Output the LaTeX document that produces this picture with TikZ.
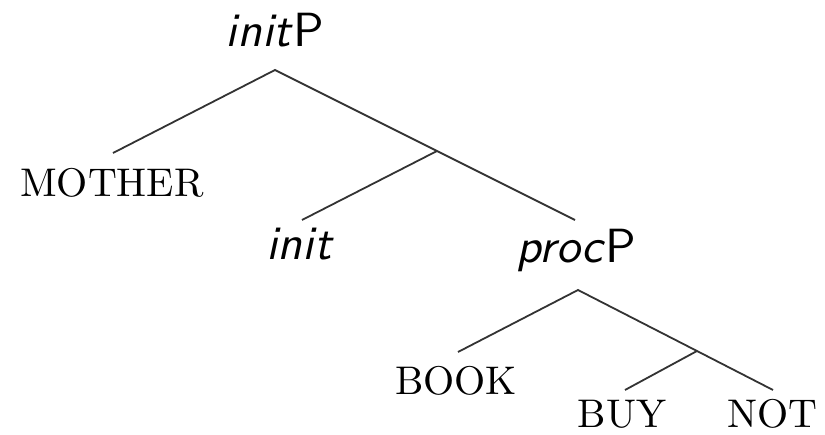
\documentclass[tikz,border=0pt]{standalone}
\usepackage{fontspec}
\newfontfamily\lmten{lmroman10-regular}[Extension=.otf]
\newfontfamily\lmsansten{lmsans10-regular}[Extension=.otf,ItalicFont=lmsans10-oblique]
\begin{document}
\begin{tikzpicture}[x=1pt,y=-1pt,
  cat/.style={anchor=base,inner sep=0pt,font=\lmsansten\fontsize{48}{50}\selectfont},
  leaf/.style={anchor=base,inner sep=0pt,font=\lmten\fontsize{40}{42}\selectfont},
  branch/.style={draw=black!80,line width=1.8pt}]
\useasboundingbox (0,0) rectangle (825,435);
\node[cat] (initP) at (275,47) {\textit{init}P};
\node[leaf] (mother) at (112,197) {MOTHER};
\node[cat] (init) at (300,260) {\textit{init}};
\node[cat] (procP) at (576,263) {\textit{proc}P};
\node[leaf] (book) at (456,395) {BOOK};
\node[leaf] (buy) at (622,428) {BUY};
\node[leaf] (notn) at (772,428) {NOT};
\coordinate (initPtop) at (275,70);
\coordinate (motherEnd) at (113,153);
\coordinate (initbranch) at (437,151);
\coordinate (initEnd) at (302,220);
\coordinate (procEnd) at (575,220);
\coordinate (procPtop) at (578,290);
\coordinate (bookEnd) at (458,352);
\coordinate (buybranch) at (697,351);
\coordinate (buyEnd) at (625,390);
\coordinate (notEnd) at (773,390);
\draw[branch] (motherEnd) -- (initPtop) -- (initbranch) -- (procEnd);
\draw[branch] (initbranch) -- (initEnd);
\draw[branch] (bookEnd) -- (procPtop) -- (buybranch) -- (notEnd);
\draw[branch] (buybranch) -- (buyEnd);
\end{tikzpicture}
\end{document}
